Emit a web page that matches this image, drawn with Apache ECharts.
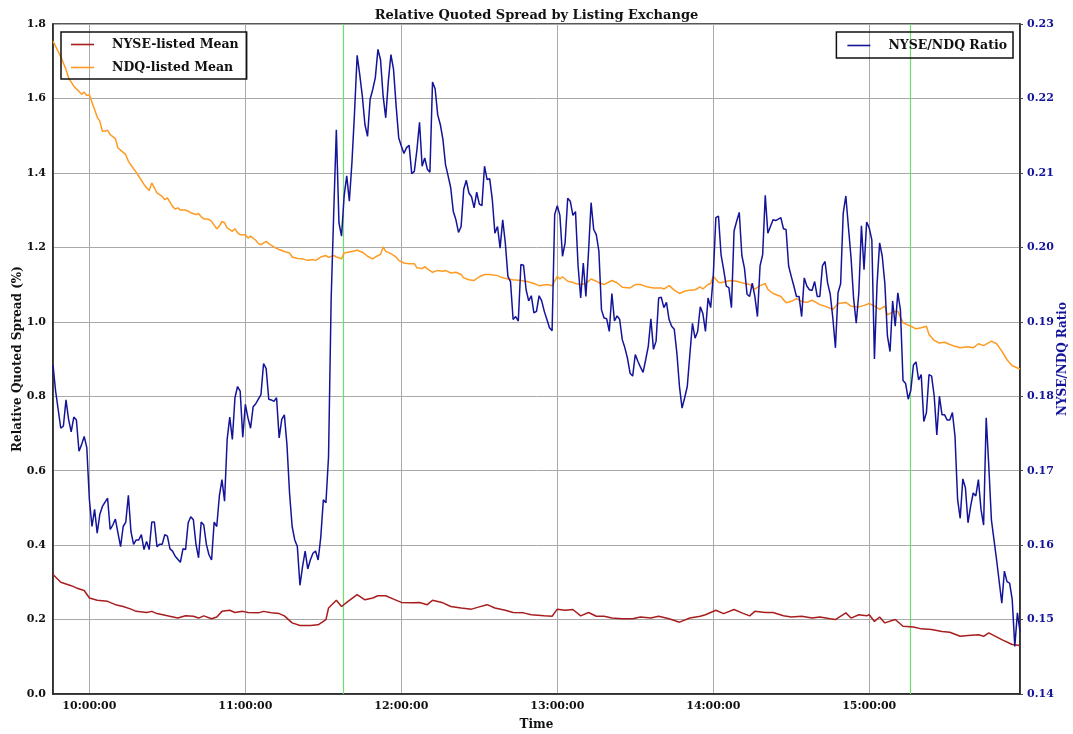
<!DOCTYPE html>
<html>
<head>
<meta charset="utf-8">
<script src="https://cdn.jsdelivr.net/npm/echarts@6/dist/echarts.min.js"></script>
<style>html,body{margin:0;padding:0;background:#fff}#chart{width:1073px;height:734px}</style>
</head>
<body>
<div id="chart"></div>
<script>
// ---- data (x = minutes after session start 09:46) ----
const SESSION_START = [9, 46];
const SESSION_MINUTES = 372;

const ratioMin = [0,1,3,4,5,6,7,8,9,10,11,12,13,14,15,16,17,18,19,21,22,23,24,25,26,27,28,29,30,31,32,33,34,35,36,37,38,39,40,41,42,43,44,45,46,47,49,50,51,52,53,54,55,56,57,58,59,60,61,62,63,64,65,66,67,68,69,70,71,72,73,74,75,76,77,78,80,81,82,83,84,85,86,87,88,89,90,91,92,93,94,95,96,97,98,99,100,101,102,103,104,105,106,107,108,109,110,111,112,113,114,115,116,117,118,119,120,121,122,123,124,125,126,127,128,129,130,131,132,133,134,135,136,137,138,139,140,141,142,143,144,145,146,147,148,149,150,151,152,153,154,155,156,157,158,159,160,161,162,163,164,165,166,167,168,169,170,171,172,173,174,175,176,177,178,179,180,181,182,183,184,185,186,187,188,189,190,191,192,193,194,195,196,197,198,199,200,201,202,203,204,205,206,207,208,209,210,211,212,213,214,215,216,217,218,219,220,221,222,223,224,225,226,227,228,229,230,231,232,233,234,235,236,237,238,239,240,241,242,243,244,245,246,247,248,249,250,251,252,253,254,255,256,257,258,259,260,261,262,263,264,265,266,267,268,269,270,271,272,273,274,275,276,277,278,279,280,281,282,283,284,285,286,287,288,289,290,291,292,293,294,295,296,297,298,299,300,301,302,303,304,305,306,307,308,309,310,311,312,313,314,315,316,317,318,319,320,321,322,323,324,325,326,327,328,329,330,331,332,333,334,335,336,337,338,339,340,341,342,343,344,345,346,347,348,349,350,351,352,353,354,355,356,357,358,359,360,361,362,363,365,366,367,368,369,370,371,372];
const ratioVal = [0.1842,0.1807,0.1757,0.1760,0.1795,0.1769,0.1752,0.1772,0.1768,0.1726,0.1735,0.1746,0.1731,0.1661,0.1625,0.1648,0.1616,0.1641,0.1652,0.1663,0.1621,0.1627,0.1635,0.1616,0.1598,0.1625,0.1631,0.1667,0.1618,0.1601,0.1607,0.1607,0.1614,0.1594,0.1605,0.1594,0.1631,0.1631,0.1598,0.1601,0.1601,0.1614,0.1612,0.1595,0.1592,0.1585,0.1577,0.1595,0.1594,0.1630,0.1638,0.1634,0.1601,0.1583,0.1631,0.1627,0.1601,0.1587,0.1580,0.1631,0.1625,0.1666,0.1688,0.1659,0.1742,0.1772,0.1742,0.1798,0.1813,0.1807,0.1745,0.1789,0.1771,0.1757,0.1786,0.1790,0.1802,0.1844,0.1837,0.1796,0.1795,0.1793,0.1798,0.1744,0.1769,0.1775,0.1735,0.1670,0.1625,0.1607,0.1598,0.1546,0.1571,0.1592,0.1568,0.1580,0.1589,0.1592,0.1580,0.1610,0.1661,0.1657,0.1719,0.1930,0.2047,0.2158,0.2033,0.2015,0.2069,0.2096,0.2062,0.2114,0.2181,0.2258,0.2232,0.2203,0.2165,0.2149,0.2199,0.2212,0.2228,0.2266,0.2252,0.2203,0.2174,0.2223,0.2259,0.2239,0.2190,0.2147,0.2136,0.2126,0.2134,0.2137,0.2099,0.2102,0.2131,0.2168,0.2109,0.2120,0.2105,0.2101,0.2222,0.2213,0.2178,0.2165,0.2145,0.2111,0.2096,0.2080,0.2048,0.2037,0.2020,0.2028,0.2078,0.2090,0.2073,0.2068,0.2053,0.2074,0.2058,0.2056,0.2109,0.2091,0.2092,0.2064,0.2019,0.2028,0.1999,0.2037,0.2006,0.1961,0.1954,0.1903,0.1907,0.1901,0.1977,0.1976,0.1943,0.1928,0.1935,0.1912,0.1914,0.1935,0.1928,0.1914,0.1903,0.1892,0.1888,0.2044,0.2056,0.2043,0.1988,0.2006,0.2066,0.2062,0.2043,0.2048,0.1975,0.1932,0.1979,0.1934,0.1993,0.2060,0.2024,0.2017,0.1995,0.1916,0.1905,0.1904,0.1887,0.1938,0.1901,0.1908,0.1903,0.1876,0.1865,0.1851,0.1831,0.1827,0.1856,0.1847,0.1839,0.1832,0.1849,0.1867,0.1904,0.1863,0.1874,0.1932,0.1933,0.1919,0.1926,0.1903,0.1894,0.1890,0.1858,0.1813,0.1784,0.1798,0.1813,0.1856,0.1898,0.1878,0.1887,0.1920,0.1911,0.1887,0.1932,0.1919,0.1961,0.2040,0.2042,0.1990,0.1970,0.1948,0.1946,0.1919,0.2022,0.2035,0.2047,0.1989,0.1972,0.1937,0.1934,0.1952,0.1934,0.1907,0.1975,0.1990,0.2070,0.2019,0.2028,0.2037,0.2036,0.2038,0.2040,0.2025,0.2024,0.1975,0.1961,0.1948,0.1934,0.1934,0.1907,0.1959,0.1948,0.1943,0.1942,0.1954,0.1934,0.1934,0.1975,0.1981,0.1952,0.1937,0.1905,0.1865,0.1939,0.1951,0.2046,0.2069,0.2027,0.1986,0.1931,0.1898,0.1939,0.2029,0.1970,0.2034,0.2026,0.2010,0.1850,0.1950,0.2006,0.1988,0.1952,0.1881,0.1860,0.1928,0.1894,0.1939,0.1916,0.1821,0.1817,0.1796,0.1808,0.1842,0.1846,0.1822,0.1829,0.1766,0.1778,0.1829,0.1827,0.1800,0.1748,0.1800,0.1775,0.1775,0.1768,0.1768,0.1778,0.1746,0.1661,0.1636,0.1689,0.1677,0.1630,0.1652,0.1670,0.1666,0.1688,0.1648,0.1627,0.1771,0.1706,0.1634,0.1607,0.1580,0.1522,0.1565,0.1551,0.1549,0.1527,0.1464,0.1509,0.1484];

const ndqMin = [0,3,5,6,8,10,11,12,13,14,15,16,17,18,19,20,21,22,24,25,26,28,29,31,32,33,35,36,37,38,39,40,42,43,44,46,47,48,49,51,52,53,55,56,57,58,60,61,62,63,64,65,66,67,69,70,71,72,74,75,76,78,79,80,82,83,84,85,87,89,91,92,94,96,98,100,101,102,103,105,106,108,109,110,111,112,115,117,119,121,123,124,126,127,128,130,132,133,135,137,139,140,142,143,144,146,148,150,151,153,155,157,158,160,162,164,166,168,171,173,175,177,180,182,185,187,190,192,194,195,196,198,200,201,203,205,207,209,210,212,215,217,219,222,224,226,228,231,234,235,237,239,241,243,245,247,249,250,252,253,254,256,257,259,261,263,265,268,270,272,274,275,277,280,282,284,286,288,290,292,295,297,300,302,305,307,310,312,314,316,318,320,321,323,325,327,330,332,334,336,337,339,341,343,345,347,349,352,354,356,358,361,363,365,367,369,372];
const ndqVal = [1.754,1.712,1.678,1.655,1.633,1.619,1.611,1.617,1.608,1.610,1.590,1.570,1.550,1.539,1.512,1.512,1.515,1.503,1.492,1.467,1.461,1.449,1.431,1.411,1.402,1.391,1.369,1.360,1.353,1.373,1.360,1.346,1.337,1.328,1.333,1.310,1.303,1.306,1.300,1.300,1.297,1.293,1.288,1.291,1.282,1.277,1.275,1.270,1.259,1.250,1.257,1.270,1.266,1.252,1.243,1.250,1.239,1.234,1.234,1.225,1.230,1.219,1.210,1.207,1.216,1.210,1.205,1.201,1.194,1.189,1.185,1.174,1.170,1.169,1.165,1.167,1.165,1.169,1.174,1.178,1.173,1.178,1.174,1.172,1.169,1.185,1.189,1.192,1.187,1.176,1.169,1.174,1.181,1.201,1.189,1.183,1.174,1.165,1.158,1.156,1.156,1.145,1.143,1.148,1.142,1.133,1.138,1.136,1.138,1.131,1.133,1.127,1.118,1.113,1.111,1.121,1.127,1.127,1.124,1.118,1.115,1.113,1.111,1.109,1.103,1.097,1.100,1.097,1.122,1.115,1.121,1.109,1.106,1.103,1.100,1.103,1.115,1.109,1.105,1.100,1.111,1.105,1.093,1.091,1.100,1.100,1.095,1.091,1.091,1.088,1.097,1.085,1.076,1.082,1.085,1.086,1.094,1.088,1.100,1.103,1.122,1.106,1.105,1.109,1.111,1.109,1.105,1.100,1.088,1.097,1.103,1.087,1.076,1.068,1.051,1.055,1.062,1.055,1.052,1.058,1.046,1.042,1.033,1.049,1.052,1.042,1.040,1.044,1.049,1.042,1.033,1.042,1.019,1.026,1.028,0.997,0.988,0.981,0.984,0.988,0.966,0.950,0.943,0.945,0.939,0.934,0.930,0.933,0.930,0.941,0.936,0.948,0.941,0.921,0.898,0.882,0.873];

const nyseMin = [0,3,7,9,12,14,17,21,24,27,30,32,36,38,40,44,48,51,54,56,58,61,63,65,68,70,73,75,79,81,84,87,89,92,95,99,102,105,106,109,111,113,117,120,123,125,128,131,134,138,141,144,146,150,153,157,161,164,167,170,174,177,181,184,189,192,194,197,200,203,206,209,212,215,219,223,226,230,233,237,241,245,249,251,255,258,262,265,268,270,274,277,281,284,288,292,295,299,301,305,307,310,313,314,316,318,320,324,327,331,334,338,342,345,349,352,356,358,360,365,369,372];
const nyseVal = [0.321,0.300,0.291,0.285,0.278,0.258,0.252,0.249,0.240,0.235,0.228,0.222,0.219,0.222,0.216,0.210,0.204,0.210,0.209,0.204,0.210,0.202,0.207,0.222,0.225,0.219,0.222,0.219,0.218,0.222,0.218,0.216,0.210,0.191,0.184,0.184,0.186,0.200,0.231,0.252,0.235,0.246,0.267,0.253,0.258,0.264,0.264,0.255,0.246,0.245,0.246,0.240,0.252,0.245,0.235,0.231,0.228,0.234,0.240,0.231,0.225,0.219,0.218,0.213,0.210,0.209,0.228,0.225,0.227,0.210,0.219,0.209,0.209,0.204,0.202,0.202,0.207,0.204,0.209,0.202,0.193,0.204,0.209,0.213,0.225,0.216,0.227,0.218,0.210,0.222,0.219,0.219,0.210,0.207,0.209,0.204,0.207,0.202,0.200,0.218,0.204,0.213,0.210,0.213,0.195,0.207,0.191,0.200,0.182,0.180,0.175,0.173,0.168,0.166,0.155,0.157,0.159,0.155,0.164,0.146,0.133,0.130];

// event markers (minutes after session start)
const eventMin = [111.7, 329.7];

const leftAxis = {min: 0, max: 1.8, step: 0.2};
const rightAxis = {min: 0.14, max: 0.23, step: 0.01};

const seriesNames = ['NYSE-listed Mean', 'NDQ-listed Mean', 'NYSE/NDQ Ratio'];

// ---- build ----
const FONT = 'DejaVu Serif';
const BLUE = '#14149a';
const base = new Date(2015, 0, 5, SESSION_START[0], SESSION_START[1], 0).getTime();
const t = m => base + m * 60000;
const pairs = (xs, ys) => xs.map((m, i) => [t(m), ys[i]]);
const pad = n => (n < 10 ? '0' : '') + n;

const legendText = {fontFamily: FONT, fontWeight: 'bold', fontSize: 12.5, color: '#111', padding: [0, 0, 0, 13]};

const chart = echarts.init(document.getElementById('chart'));
chart.setOption({
  animation: false,
  backgroundColor: '#ffffff',
  title: {
    text: 'Relative Quoted Spread by Listing Exchange',
    left: 'center', top: 4,
    textStyle: {fontFamily: FONT, fontWeight: 'bold', fontSize: 13, color: '#111'}
  },
  legend: [
    {
      data: [seriesNames[0], seriesNames[1]],
      orient: 'vertical', left: 61, top: 32,
      icon: 'rect', itemWidth: 23, itemHeight: 1.6, itemGap: 10,
      padding: [6, 8, 5, 10],
      borderColor: '#111', borderWidth: 1.5,
      textStyle: legendText
    },
    {
      data: [seriesNames[2]],
      orient: 'vertical', right: 60, top: 32,
      icon: 'rect', itemWidth: 23, itemHeight: 1.6,
      padding: [7, 6, 6, 11],
      borderColor: '#111', borderWidth: 1.5,
      textStyle: legendText
    }
  ],
  grid: {left: 53, right: 53, top: 24, bottom: 40, outerBoundsMode: 'none', containLabel: false,
         show: true, borderColor: '#222', borderWidth: 1.5, backgroundColor: 'transparent'},
  xAxis: {
    type: 'time',
    min: t(0), max: t(SESSION_MINUTES),
    minInterval: 3600000, maxInterval: 3600000,
    name: 'Time', nameLocation: 'middle', nameGap: 25, nameMoveOverlap: false,
    nameTextStyle: {fontFamily: FONT, fontWeight: 'bold', fontSize: 12, color: '#111'},
    axisLine: {show: true, lineStyle: {color: '#222', width: 1.5}},
    axisTick: {show: false},
    axisLabel: {
      fontFamily: FONT, fontWeight: 'bold', fontSize: 11, color: '#111', margin: 7,
      showMinLabel: false, showMaxLabel: false,
      formatter: v => { const d = new Date(v); return pad(d.getHours()) + ':' + pad(d.getMinutes()) + ':' + pad(d.getSeconds()); }
    },
    splitLine: {show: true, lineStyle: {color: '#a9a9a9', width: 1}}
  },
  yAxis: [
    {
      type: 'value', min: leftAxis.min, max: leftAxis.max, interval: leftAxis.step,
      name: 'Relative Quoted Spread (%)', nameLocation: 'middle', nameGap: 29, nameRotate: 90, nameMoveOverlap: false,
      nameTextStyle: {fontFamily: FONT, fontWeight: 'bold', fontSize: 12, color: '#111'},
      axisLine: {show: true, lineStyle: {color: '#222', width: 1.5}},
      axisTick: {show: false},
      axisLabel: {fontFamily: FONT, fontWeight: 'bold', fontSize: 11, color: '#111', margin: 7, formatter: v => v.toFixed(1)},
      splitLine: {show: true, lineStyle: {color: '#a9a9a9', width: 1}}
    },
    {
      type: 'value', min: rightAxis.min, max: rightAxis.max, interval: rightAxis.step,
      position: 'right',
      name: 'NYSE/NDQ Ratio', nameLocation: 'middle', nameGap: 37, nameRotate: 90, nameMoveOverlap: false,
      nameTextStyle: {fontFamily: FONT, fontWeight: 'bold', fontSize: 12, color: BLUE},
      axisLine: {show: true, lineStyle: {color: '#222', width: 1.5}},
      axisTick: {show: true, length: 3, lineStyle: {color: '#444'}},
      axisLabel: {fontFamily: FONT, fontWeight: 'bold', fontSize: 11, color: BLUE, margin: 7, formatter: v => v.toFixed(2)},
      splitLine: {show: false}
    }
  ],
  series: [
    {
      name: seriesNames[0], type: 'line', yAxisIndex: 0, symbol: 'none', z: 3,
      data: pairs(nyseMin, nyseVal),
      lineStyle: {color: '#a81e1e', width: 1.5}, itemStyle: {color: '#a81e1e'},
      markLine: {
        silent: true, symbol: 'none', label: {show: false}, z: 1,
        lineStyle: {color: '#6fdc6f', width: 1.2, type: 'solid', opacity: 1},
        emphasis: {disabled: true},
        data: eventMin.map(m => ({xAxis: t(m)}))
      }
    },
    {
      name: seriesNames[1], type: 'line', yAxisIndex: 0, symbol: 'none', z: 3,
      data: pairs(ndqMin, ndqVal),
      lineStyle: {color: '#ff9a22', width: 1.5}, itemStyle: {color: '#ff9a22'}
    },
    {
      name: seriesNames[2], type: 'line', yAxisIndex: 1, symbol: 'none', z: 4,
      data: pairs(ratioMin, ratioVal),
      lineStyle: {color: BLUE, width: 1.5}, itemStyle: {color: BLUE}
    }
  ]
});
</script>
</body>
</html>
